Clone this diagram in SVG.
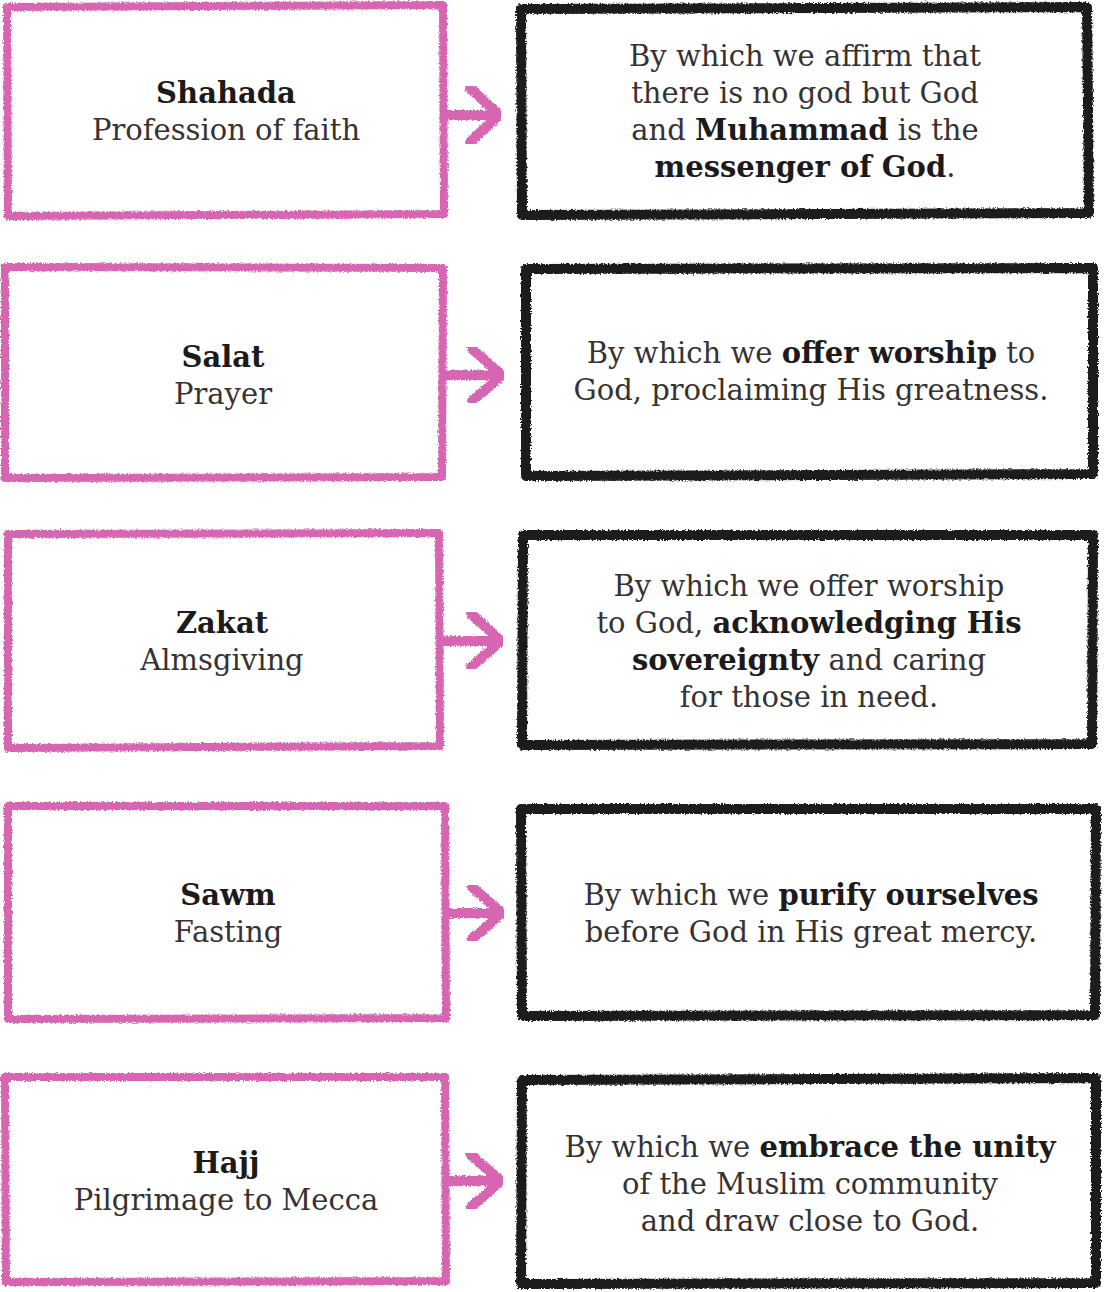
<svg xmlns="http://www.w3.org/2000/svg" width="1104" height="1292" viewBox="0 0 1104 1292">
<defs>
<filter id="rough" x="-3%" y="-3%" width="106%" height="106%">
<feTurbulence type="fractalNoise" baseFrequency="0.6" numOctaves="2" seed="3" result="n"/>
<feDisplacementMap in="SourceGraphic" in2="n" scale="4" xChannelSelector="R" yChannelSelector="G"/>
</filter>
</defs>
<style>
.pink{fill:#ffffff;stroke:#d865b1;stroke-width:8;stroke-linejoin:round;filter:url(#rough)}
.blk{fill:#ffffff;stroke:#1c1a1b;stroke-width:10;stroke-linejoin:round;filter:url(#rough)}
.arr{fill:none;stroke:#d865b1;stroke-width:10;stroke-linecap:round;stroke-linejoin:round;filter:url(#rough)}
text{font-family:"DejaVu Serif","Liberation Serif",serif;font-size:29px;fill:#363233;text-anchor:middle}
.b{font-weight:bold;fill:#1c1a1b}
</style>
<rect width="1104" height="1292" fill="#ffffff"/>
<g id="connectors">
<path class="arr" d="M445,115 H498 M470,88 L499,115 L470,142"/>
<path class="arr" d="M445,375 H501 M472,349 L502,375 L472,401"/>
<path class="arr" d="M443,641 H500 M471,614 L501,641 L471,667"/>
<path class="arr" d="M447,913 H501 M472,887 L502,913 L472,939"/>
<path class="arr" d="M447,1181 H500 M471,1155 L501,1181 L471,1207"/>
</g>
<g id="shahada">
<path class="pink" d="M7,7 L443,5 L444,214 L8,216 Z"/>
<text x="226" y="103"><tspan class="b">Shahada</tspan></text>
<text x="226" y="140">Profession of faith</text>
</g>
<g id="shahada-desc">
<path class="blk" d="M521,9 L1087,7 L1089,213 L522,215 Z"/>
<text x="805" y="66">By which we affirm that</text>
<text x="805" y="103">there is no god but God</text>
<text x="805" y="140">and <tspan class="b">Muhammad</tspan> is the</text>
<text x="805" y="177"><tspan class="b">messenger of God</tspan>.</text>
</g>
<g id="salat">
<path class="pink" d="M5,267 L443,268 L442,477 L5,478 Z"/>
<text x="223" y="367"><tspan class="b">Salat</tspan></text>
<text x="223" y="404">Prayer</text>
</g>
<g id="salat-desc">
<path class="blk" d="M526,269 L1093,268 L1093,474 L526,476 Z"/>
<text x="811" y="363">By which we <tspan class="b">offer worship</tspan> to</text>
<text x="811" y="400">God, proclaiming His greatness.</text>
</g>
<g id="zakat">
<path class="pink" d="M8,534 L439,533 L440,746 L8,748 Z"/>
<text x="222" y="633"><tspan class="b">Zakat</tspan></text>
<text x="222" y="670">Almsgiving</text>
</g>
<g id="zakat-desc">
<path class="blk" d="M523,535 L1093,535 L1092,744 L522,745 Z"/>
<text x="809" y="596">By which we offer worship</text>
<text x="809" y="633">to God, <tspan class="b">acknowledging His</tspan></text>
<text x="809" y="670"><tspan class="b">sovereignty</tspan> and caring</text>
<text x="809" y="707">for those in need.</text>
</g>
<g id="sawm">
<path class="pink" d="M8,806 L445,806 L446,1018 L8,1019 Z"/>
<text x="228" y="905"><tspan class="b">Sawm</tspan></text>
<text x="228" y="942">Fasting</text>
</g>
<g id="sawm-desc">
<path class="blk" d="M521,809 L1096,809 L1095,1015 L522,1016 Z"/>
<text x="811" y="905">By which we <tspan class="b">purify ourselves</tspan></text>
<text x="811" y="942">before God in His great mercy.</text>
</g>
<g id="hajj">
<path class="pink" d="M5,1077 L445,1077 L446,1281 L6,1282 Z"/>
<text x="226" y="1173"><tspan class="b">Hajj</tspan></text>
<text x="226" y="1210">Pilgrimage to Mecca</text>
</g>
<g id="hajj-desc">
<path class="blk" d="M522,1080 L1096,1078 L1096,1283 L521,1284 Z"/>
<text x="810" y="1157">By which we <tspan class="b">embrace the unity</tspan></text>
<text x="810" y="1194">of the Muslim community</text>
<text x="810" y="1231">and draw close to God.</text>
</g>
</svg>
